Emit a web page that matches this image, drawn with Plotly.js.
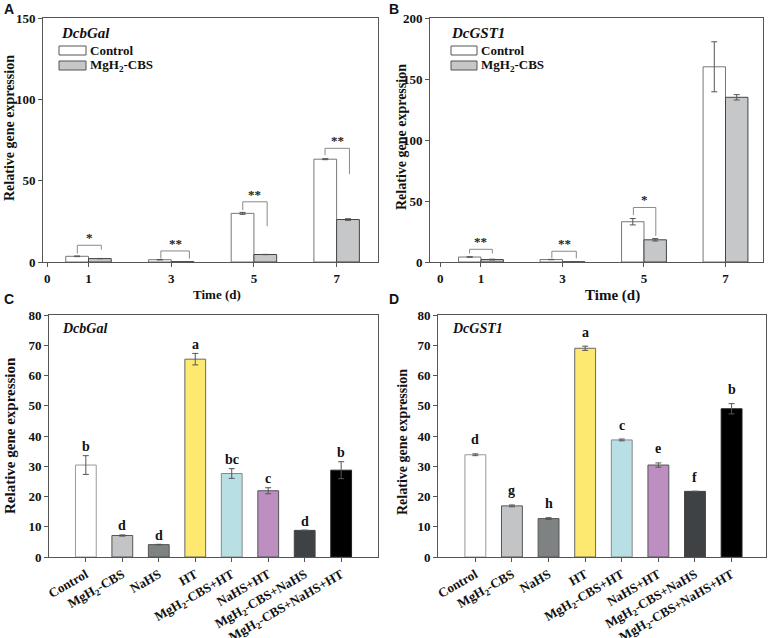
<!DOCTYPE html>
<html>
<head>
<meta charset="utf-8">
<script src="https://cdn.plot.ly/plotly-3.0.1.min.js"></script>
<style>html,body{margin:0;padding:0;background:#fff;}#chart{width:770px;height:638px;}</style>
</head>
<body>
<div id="chart"></div>
<script>
// ---------- DATA ----------
const days = [1, 3, 5, 7];
const A_ctrl = [3.5, 1.4, 29.9, 63.2];
const A_ctrlErr = [0.2, 0.1, 0.6, 0.3];
const A_mg = [2.1, 0.2, 4.6, 26.1];
const A_mgErr = [0.1, 0.05, 0.1, 0.5];
const A_sig = ['*', '**', '**', '**'];
const A_sigTop = [10.3, 6.8, 37, 69.9];
const A_sigLeft = [5.2, 2.1, 31.9, 65.7];
const A_sigRight = [7.6, 2.1, 22, 54];
const A_sigL = [0.27, 0.25, 0.27, 0.28];
const A_sigR = [0.31, 0.44, 0.32, 0.31];

const B_ctrl = [4.1, 2.0, 33.0, 160];
const B_ctrlErr = [0.2, 0.1, 2.6, 20.5];
const B_mg = [2.0, 0.2, 18.2, 135];
const B_mgErr = [0.3, 0.05, 1.0, 2.2];
const B_sig = ['**', '**', '*'];
const B_sigTop = [10.4, 8.8, 44.7];
const B_sigLeft = [7, 3, 38.4];
const B_sigRight = [7, 3, 21.4];
const B_sigL = [0.28, 0.26, 0.26];
const B_sigR = [0.28, 0.34, 0.29];

const treatments = ['Control', 'MgH<sub>2</sub>-CBS', 'NaHS', 'HT', 'MgH<sub>2</sub>-CBS+HT',
  'NaHS+HT', 'MgH<sub>2</sub>-CBS+NaHS', 'MgH<sub>2</sub>-CBS+NaHS+HT'];
const C_vals = [30.4, 7.1, 4.1, 65.4, 27.6, 21.9, 8.8, 28.7];
const C_err = [3.1, 0.2, 0.1, 1.9, 1.6, 1.0, 0.1, 2.8];
const C_letters = ['b', 'd', 'd', 'a', 'bc', 'c', 'd', 'b'];
const D_vals = [33.8, 16.9, 12.7, 69.0, 38.7, 30.4, 21.7, 49.0];
const D_err = [0.3, 0.3, 0.3, 0.7, 0.3, 0.7, 0.05, 1.7];
const D_letters = ['d', 'g', 'h', 'a', 'c', 'e', 'f', 'b'];

// ---------- STYLE ----------
const W = 770, H = 638;
const px = x => x / W;
const py = y => 1 - y / H;
const SERIF = 'Liberation Serif, Times New Roman, serif';
const SANS = 'Liberation Sans, Arial, sans-serif';
const treatColors = ['#ffffff', '#c2c4c5', '#7f8283', '#fde870', '#b8e0e4', '#bd8fc1', '#3e4244', '#000000'];
const treatLines = ['#999999', '#555555', '#555555', '#666666', '#888888', '#555555', '#444444', '#222222'];
const ctrlColor = '#ffffff', mgColor = '#c5c7c8';
const errStyle = arr => ({type: 'data', array: arr, visible: true, color: '#555', thickness: 1, width: 3});

const traces = [];
function pairBars(xa, ya, ctrl, ctrlErr, mg, mgErr) {
  traces.push({type: 'bar', x: days, y: ctrl, width: 0.55, offset: -0.55, xaxis: xa, yaxis: ya,
    marker: {color: ctrlColor, line: {color: '#777', width: 1}}, error_y: errStyle(ctrlErr), showlegend: false, hoverinfo: 'none'});
  traces.push({type: 'bar', x: days, y: mg, width: 0.55, offset: 0, xaxis: xa, yaxis: ya,
    marker: {color: mgColor, line: {color: '#444', width: 1}}, error_y: errStyle(mgErr), showlegend: false, hoverinfo: 'none'});
}
pairBars('x', 'y', A_ctrl, A_ctrlErr, A_mg, A_mgErr);
pairBars('x2', 'y2', B_ctrl, B_ctrlErr, B_mg, B_mgErr);
traces.push({type: 'bar', x: treatments, y: C_vals, width: 0.57, xaxis: 'x3', yaxis: 'y3',
  marker: {color: treatColors, line: {color: treatLines, width: 1}}, error_y: errStyle(C_err), showlegend: false, hoverinfo: 'none'});
traces.push({type: 'bar', x: treatments, y: D_vals, width: 0.57, xaxis: 'x4', yaxis: 'y4',
  marker: {color: treatColors, line: {color: treatLines, width: 1}}, error_y: errStyle(D_err), showlegend: false, hoverinfo: 'none'});

const shapes = [];
const annotations = [];

function sigBrackets(xr, yr, sig, top, left, right, dl, dr) {
  sig.forEach((s, i) => {
    const xl = days[i] - dl[i], xrr = days[i] + dr[i];
    shapes.push({type: 'path', xref: xr, yref: yr,
      path: `M ${xl},${left[i]} L ${xl},${top[i]} L ${xrr},${top[i]} L ${xrr},${right[i]}`,
      line: {color: '#8a8a8a', width: 1}});
    annotations.push({xref: xr, yref: yr, x: (xl + xrr) / 2, y: top[i], yanchor: 'bottom', yshift: -2,
      text: s, showarrow: false, font: {family: SERIF, size: 13, color: '#222', weight: 'bold'}});
  });
}
sigBrackets('x', 'y', A_sig, A_sigTop, A_sigLeft, A_sigRight, A_sigL, A_sigR);
sigBrackets('x2', 'y2', B_sig, B_sigTop, B_sigLeft, B_sigRight, B_sigL, B_sigR);

function letters(xr, yr, vals, errs, labs, shift) {
  labs.forEach((l, i) => {
    annotations.push({xref: xr, yref: yr, x: treatments[i], y: vals[i] + errs[i], yanchor: 'middle', yshift: shift,
      text: l, showarrow: false, font: {family: SERIF, size: 14, color: '#111', weight: 'bold'}});
  });
}
letters('x3', 'y3', C_vals, C_err, C_letters, 9);
letters('x4', 'y4', D_vals, D_err, D_letters, 14);

// paper-space texts
function txt(x, y, text, opts) {
  annotations.push(Object.assign({xref: 'paper', yref: 'paper', x: px(x), y: py(y), text: text, showarrow: false,
    xanchor: 'center', yanchor: 'middle'}, opts));
}
const panelFont = {family: SANS, size: 14, color: '#111', weight: 'bold'};
txt(9, 9, 'A', {font: panelFont});
txt(394, 9, 'B', {font: panelFont});
txt(9, 299, 'C', {font: panelFont});
txt(394, 299, 'D', {font: panelFont});

const yt = (sz) => ({family: SERIF, size: sz, color: '#111', weight: 'bold'});
txt(10, 128, 'Relative gene expression', {textangle: -90, font: yt(14)});
txt(402, 137, 'Relative gene expression', {textangle: -90, font: yt(14)});
txt(10, 436, 'Relative gene expression', {textangle: -90, font: yt(15)});
txt(403, 442, 'Relative gene expression', {textangle: -90, font: yt(14)});
txt(217, 294, 'Time (d)', {font: yt(13)});
txt(612, 295, 'Time (d)', {font: yt(15)});

const geneFont = {family: SERIF, size: 15, color: '#111', weight: 'bold', style: 'italic'};
txt(59, 33, 'DcbGal', {xanchor: 'left', font: geneFont});
txt(449, 33, 'DcGST1', {xanchor: 'left', font: geneFont});
txt(60, 328, 'DcbGal', {xanchor: 'left', font: Object.assign({}, geneFont, {size: 14})});
txt(450, 328, 'DcGST1', {xanchor: 'left', font: Object.assign({}, geneFont, {size: 14})});

// custom legends
const legFont = {family: SERIF, size: 13, color: '#111', weight: 'bold'};
function legend(x0, x1, yA, yB) {
  shapes.push({type: 'rect', xref: 'paper', yref: 'paper', x0: px(x0), x1: px(x1), y0: py(yA + 9), y1: py(yA),
    fillcolor: ctrlColor, line: {color: '#555', width: 1}});
  shapes.push({type: 'rect', xref: 'paper', yref: 'paper', x0: px(x0), x1: px(x1), y0: py(yB + 9), y1: py(yB),
    fillcolor: mgColor, line: {color: '#555', width: 1}});
  txt(x1 + 2, yA + 4.5, 'Control', {xanchor: 'left', font: legFont});
  txt(x1 + 2, yB + 4.5, 'MgH<sub>2</sub>-CBS', {xanchor: 'left', font: legFont});
}
legend(59, 86, 46, 61);
legend(451, 477, 46, 61);

// ---------- AXES ----------
const tickFont = {family: SERIF, size: 13, color: '#111', weight: 'bold'};
const baseAx = {showgrid: false, zeroline: false, showline: true, linecolor: '#555', linewidth: 1, mirror: true,
  ticks: 'outside', ticklen: 4, tickcolor: '#555', tickwidth: 1, tickfont: tickFont, fixedrange: true};
const ax = o => Object.assign({}, baseAx, o);

const layout = {
  width: W, height: H, margin: {l: 0, r: 0, t: 0, b: 0}, paper_bgcolor: '#fff', plot_bgcolor: '#fff',
  barmode: 'overlay', showlegend: false,
  xaxis: ax({domain: [px(43), px(378)], anchor: 'y', range: [-0.1, 8.0], tickmode: 'array', tickvals: [0, 1, 3, 5, 7], ticktext: ['0', '1', '3', '5', '7']}),
  yaxis: ax({domain: [py(262), py(18)], anchor: 'x', range: [0, 150], dtick: 50}),
  xaxis2: ax({domain: [px(430), px(763)], anchor: 'y2', range: [-0.25, 7.92], tickmode: 'array', tickvals: [0, 1, 3, 5, 7], ticktext: ['0', '1', '3', '5', '7']}),
  yaxis2: ax({domain: [py(262), py(18)], anchor: 'x2', range: [0, 200], dtick: 50}),
  xaxis3: ax({domain: [px(49), px(378)], anchor: 'y3', type: 'category', categoryorder: 'array', categoryarray: treatments, range: [-1.01, 8.01], tickangle: -30}),
  yaxis3: ax({domain: [py(557), py(315)], anchor: 'x3', range: [0, 80], dtick: 10}),
  xaxis4: ax({domain: [px(438), px(766)], anchor: 'y4', type: 'category', categoryorder: 'array', categoryarray: treatments, range: [-1.02, 7.94], tickangle: -30}),
  yaxis4: ax({domain: [py(557), py(315)], anchor: 'x4', range: [0, 80], dtick: 10}),
  shapes: shapes, annotations: annotations
};

Plotly.newPlot('chart', traces, layout, {staticPlot: true, displayModeBar: false});
</script>
</body>
</html>
